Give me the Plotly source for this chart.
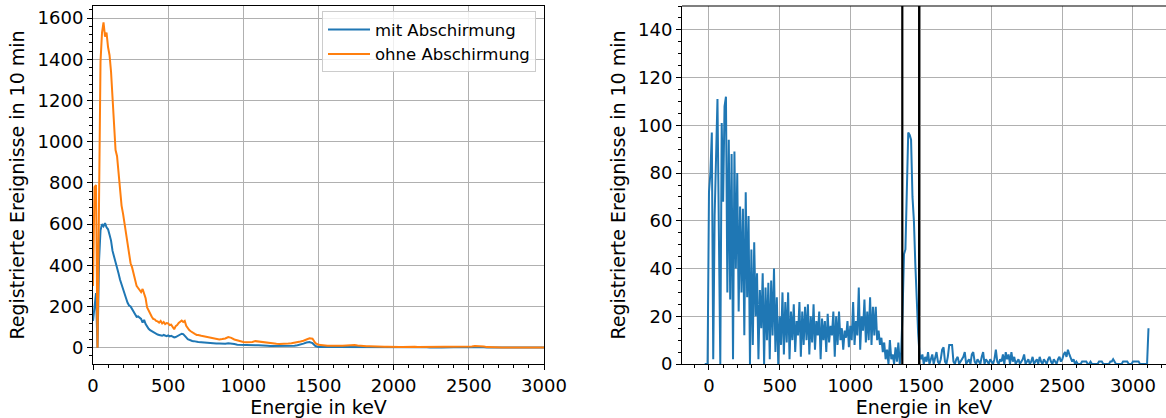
import plotly.graph_objects as go

# ---------------- left panel: spectra with / without shielding ----------------
# energy grid (keV): 10 keV bins up to 690, 20 keV bins from 700 to 3000
energy_left = list(range(0, 700, 10)) + list(range(700, 3001, 20))

counts_ohne = [
    300, 780, 790, 0, 700, 1390, 1530, 1580, 1510, 1530,
    1460, 1420, 1340, 1210, 1090, 960, 930, 850, 770, 690,
    650, 600, 560, 500, 465, 410, 390, 355, 330, 300,
    290, 280, 270, 285, 265, 240, 195, 180, 160, 152,
    140, 138, 130, 128, 122, 130, 118, 125, 115, 120,
    118, 110, 112, 100, 90, 105, 110, 120, 128, 132,
    125, 130, 106, 95, 86, 80, 74, 70, 66, 62,
    # 700 .. 3000 in 20 keV steps
    62, 58, 55, 50, 48,
    45, 44, 40, 42, 45,
    52, 48, 40, 35, 30,
    28, 27, 26, 28, 32,
    30, 28, 24, 22, 20,
    20, 19, 18, 18, 19,
    20, 22, 24, 26, 30,
    34, 40, 46, 44, 22,
    14, 12, 11, 10, 10,
    9, 9, 9, 10, 11,
    13, 14, 13, 11, 9,
    8, 7, 7, 6, 6,
    6, 5, 5, 5, 4,
    4, 5, 4, 4, 5,
    4, 4, 5, 4, 4,
    4, 3, 4, 4, 3,
    4, 3, 3, 4, 3,
    3, 4, 3, 4, 5,
    5, 6, 8, 8, 7,
    6, 3, 2, 2, 1,
    2, 1, 1, 2, 1,
    1, 1, 2, 1, 1,
    1, 1, 1, 0, 1,
    1,
]

counts_mit = [
    130, 200, 265, 0, 420, 570, 600, 590, 605, 585,
    575, 548, 520, 470, 445, 410, 395, 360, 330, 310,
    285, 270, 240, 218, 205, 200, 188, 180, 162, 150,
    152, 145, 140, 122, 135, 115, 100, 92, 85, 80,
    75, 72, 68, 64, 62, 60, 58, 62, 57, 56,
    60, 55, 58, 52, 50, 52, 56, 60, 65, 68,
    66, 60, 50, 42, 38, 35, 33, 32, 30, 29,
    # 700 .. 3000 in 20 keV steps
    28, 27, 25, 24, 22,
    21, 20, 20, 19, 19,
    22, 21, 18, 15, 14,
    13, 12, 12, 11, 12,
    12, 10, 9, 9, 8,
    8, 7, 7, 7, 7,
    8, 9, 10, 12, 15,
    20, 25, 28, 22, 8,
    4, 3, 3, 3, 3,
    3, 3, 3, 3, 4,
    5, 5, 4, 3, 3,
    3, 2, 3, 2, 2,
    2, 2, 2, 2, 2,
    2, 2, 2, 2, 2,
    2, 2, 2, 2, 2,
    2, 2, 1, 2, 2,
    2, 1, 2, 2, 1,
    2, 2, 2, 2, 3,
    3, 4, 5, 4, 3,
    2, 1, 1, 1, 1,
    1, 1, 1, 1, 1,
    1, 1, 1, 1, 1,
    1, 0, 1, 1, 0,
    1,
]

# ---------------- right panel: difference spectrum ----------------
energy_right = list(range(-30, 3111, 10))

counts_diff = [
    0, 0, 0,
    72, 80, 97, 2, 62, 83, 111, 55, 0, 101,
    68, 108, 112, 30, 94, 27, 88, 2, 89, 40,
    80, 22, 66, 30, 65, 12, 72, 28, 62, 0,
    48, 8, 51, 20, 38, 2, 31, 15, 38, 0,
    32, 10, 34, 2, 35, 12, 40, 5, 28, 0,
    20, 8, 30, 4, 26, 9, 30, 2, 22, 10,
    25, 5, 18, 12, 26, 3, 22, 8, 24, 10,
    25, 4, 20, 9, 25, 6, 18, 12, 22, 2,
    19, 10, 18, 5, 21, 9, 16, 12, 22, 3,
    20, 8, 22, 10, 15, 6, 14, 11, 18, 7,
    16, 10, 26, 8, 18, 12, 32, 6, 20, 14,
    27, 9, 22, 10, 28, 8, 24, 12, 24, 10,
    14, 8, 11, 5, 9, 2, 6, 0, 10, 2,
    4, 0, 7, 1, 9, 0, 5,
    # photopeak region 1370 .. 1500
    22, 46, 48, 80, 97, 96, 94, 70, 60, 42, 24, 13, 4, 2,
    # 1510 .. 3110
    4, 0, 3, 1, 5, 0, 2, 4, 0, 3,
    5, 1, 0, 2, 6, 7, 1, 0, 3, 8,
    8, 8, 1, 0, 2, 3, 0, 1, 2, 3,
    5, 0, 1, 2, 0, 4, 5, 1, 0, 2,
    1, 0, 3, 5, 0, 2, 1, 0, 2, 1,
    0, 2, 6, 1, 0, 2, 1, 4, 0, 5,
    2, 4, 0, 5, 1, 3, 0, 1, 2, 0,
    1, 2, 4, 0, 1, 2, 0, 1, 3, 0,
    1, 2, 0, 3, 1, 0, 2, 1, 0, 2,
    3, 1, 0, 2, 1, 0, 2, 3, 1, 2,
    4, 5, 3, 6, 4, 2, 1, 2, 0, 1,
    0, 0, 0, 1, 1, 1, 1, 0, 0, 1,
    0, 0, 0, 0, 0, 1, 1, 1, 0, 0,
    0, 0, 0, 1, 1, 2, 1, 0, 0, 0,
    0, 0, 1, 1, 1, 1, 0, 0, 0, 1,
    1, 1, 1, 1, 0, 0, 0, 0, 0, 0,
    15,
]

# integration window boundaries (keV)
window_edges = [1368, 1487]

BLUE = "#1f77b4"
ORANGE = "#ff7f0e"
FONT = "DejaVu Sans"
W, H = 1166, 418

fig = go.Figure()
fig.add_trace(go.Scatter(x=energy_left, y=counts_mit, mode="lines",
                         line=dict(color=BLUE, width=2), name="mit Abschirmung",
                         xaxis="x", yaxis="y"))
fig.add_trace(go.Scatter(x=energy_left, y=counts_ohne, mode="lines",
                         line=dict(color=ORANGE, width=2), name="ohne Abschirmung",
                         xaxis="x", yaxis="y"))
fig.add_trace(go.Scatter(x=energy_right, y=counts_diff, mode="lines",
                         line=dict(color=BLUE, width=2), showlegend=False,
                         xaxis="x2", yaxis="y2"))

for e in window_edges:
    fig.add_shape(type="line", xref="x2", yref="y2 domain", x0=e, x1=e, y0=0, y1=1,
                  line=dict(color="black", width=2.2))

tickfont = dict(family=FONT, size=18, color="black")
titlefont = dict(family=FONT, size=19, color="black")
grid = "#b0b0b0"


def axis(**kw):
    base = dict(showline=True, linecolor="black", linewidth=1.1,
                ticks="outside", ticklen=5, tickwidth=1.1, tickcolor="black",
                showgrid=True, gridcolor=grid, gridwidth=1.1, zeroline=False,
                tickfont=tickfont, automargin=False)
    base.update(kw)
    return base


fig.update_layout(
    width=W, height=H,
    margin=dict(l=0, r=0, t=6, b=54),
    paper_bgcolor="white", plot_bgcolor="white",
    font=dict(family=FONT, color="black"),
    xaxis=axis(domain=[93 / W, 544 / W], range=[0, 3000], dtick=500, mirror=True,
               anchor="y",
               minor=dict(ticks="outside", ticklen=3, tickwidth=1, tickcolor="black",
                          dtick=100, showgrid=False),
               title=dict(text="Energie in keV", font=titlefont, standoff=6)),
    yaxis=axis(range=[-79, 1659], dtick=200, mirror=True, anchor="x",
               minor=dict(ticks="outside", ticklen=3, tickwidth=1, tickcolor="black",
                          dtick=40, showgrid=False),
               title=dict(text="Registrierte Ereignisse in 10 min", font=titlefont,
                          standoff=7)),
    xaxis2=axis(domain=[682 / W, 1.0], range=[-191, 3234], dtick=500, mirror=False,
                anchor="y2", tick0=0,
                minor=dict(ticks="outside", ticklen=3, tickwidth=1, tickcolor="black",
                           dtick=100, showgrid=False),
                title=dict(text="Energie in keV", font=titlefont, standoff=6)),
    yaxis2=axis(range=[0, 150], dtick=20, mirror=False, anchor="x2",
                minor=dict(ticks="outside", ticklen=3, tickwidth=1, tickcolor="black",
                           dtick=5, showgrid=False),
                title=dict(text="Registrierte Ereignisse in 10 min", font=titlefont,
                           standoff=7)),
    legend=dict(x=536 / W, y=0.985, xanchor="right", yanchor="top",
                bgcolor="rgba(255,255,255,0.8)", bordercolor="#cccccc", borderwidth=1,
                font=dict(family=FONT, size=16.5, color="black"),
                itemwidth=42, tracegroupgap=0),
    showlegend=True,
)

# top spine of the right panel
fig.add_shape(type="line", xref="x2 domain", yref="y2 domain", x0=0, x1=1, y0=1, y1=1,
              line=dict(color="black", width=1.1))

fig.write_html("out.html")
